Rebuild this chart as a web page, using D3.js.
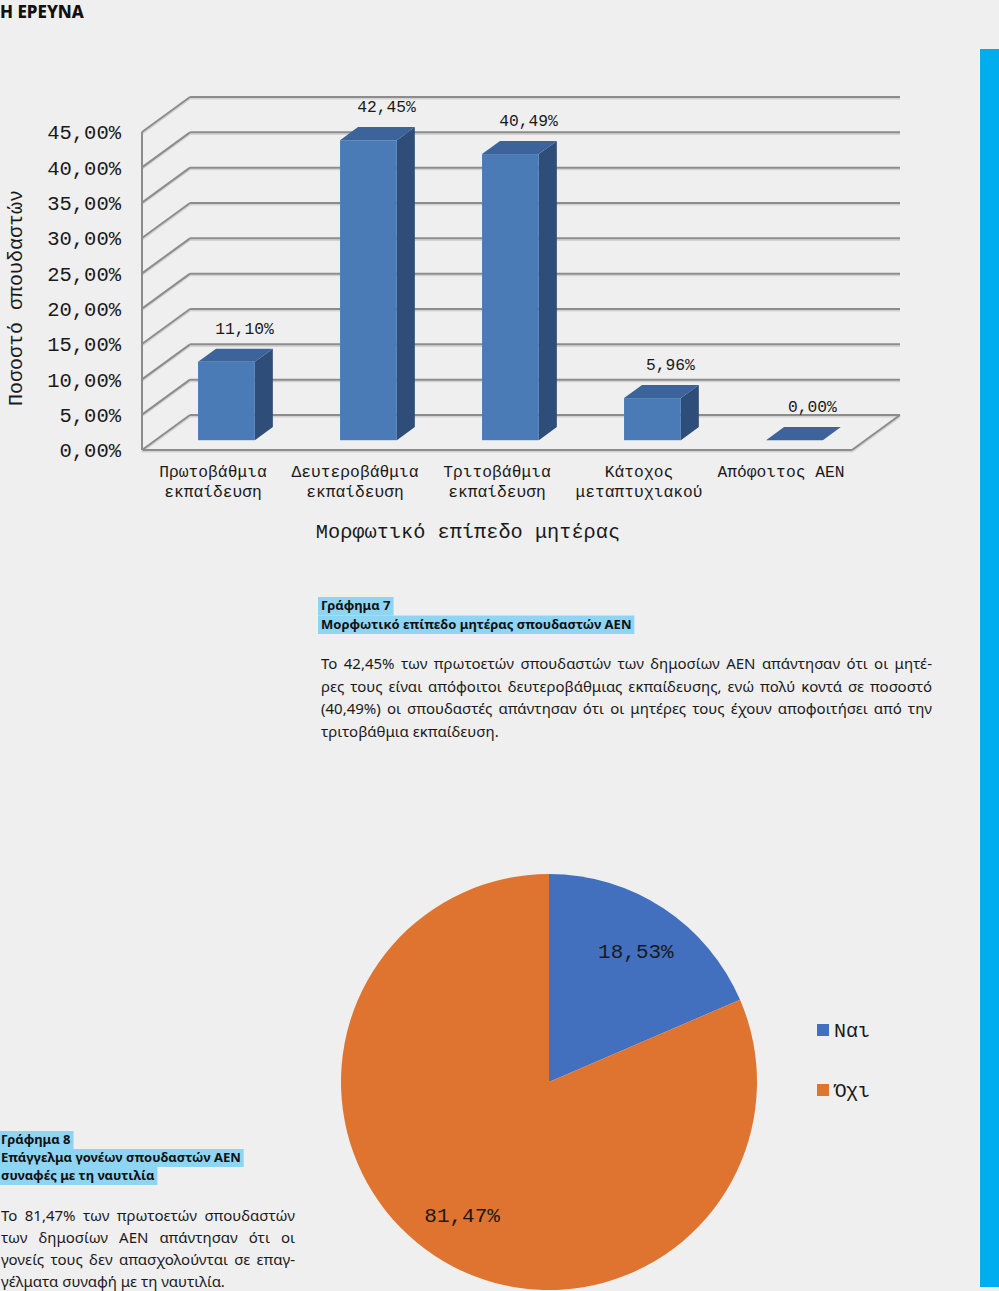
<!DOCTYPE html>
<html><head><meta charset="utf-8">
<script src="https://cdn.jsdelivr.net/npm/d3@7"></script>
<style>
html,body{margin:0;padding:0;background:#efefef;}
#wrap{position:relative;width:999px;height:1291px;overflow:hidden;}
</style></head>
<body><div id="wrap"></div>
<script>
// ---------- data ----------
const categories = [["Πρωτοβάθμια","εκπαίδευση"],["Δευτεροβάθμια","εκπαίδευση"],["Τριτοβάθμια","εκπαίδευση"],["Κάτοχος","μεταπτυχιακού"],["Απόφοιτος ΑΕΝ"]];
const values = [11.10, 42.45, 40.49, 5.96, 0.00];
const yTicks = [0,5,10,15,20,25,30,35,40,45];
const yTitle = "Ποσοστό σπουδαστών";
const xTitle = "Μορφωτικό επίπεδο μητέρας";
const pieCategories = ["Ναι","Όχι"];
const pieValues = [18.53, 81.47];
const pageTitle = "Η ΕΡΕΥΝΑ";
const caption7Head = ["Γράφημα 7","Μορφωτικό επίπεδο μητέρας σπουδαστών ΑΕΝ"];
const caption7Body = ["Το 42,45% των πρωτοετών σπουδαστών των δημοσίων ΑΕΝ απάντησαν ότι οι μητέ-",
 "ρες τους είναι απόφοιτοι δευτεροβάθμιας εκπαίδευσης, ενώ πολύ κοντά σε ποσοστό",
 "(40,49%) οι σπουδαστές απάντησαν ότι οι μητέρες τους έχουν αποφοιτήσει από την",
 "τριτοβάθμια εκπαίδευση."];
const caption8Head = ["Γράφημα 8","Επάγγελμα γονέων σπουδαστών ΑΕΝ","συναφές με τη ναυτιλία"];
const caption8Body = ["Το 81,47% των πρωτοετών σπουδαστών","των δημοσίων ΑΕΝ απάντησαν ότι οι",
 "γονείς τους δεν απασχολούνται σε επαγ-","γέλματα συναφή με τη ναυτιλία."];

// ---------- setup ----------
const W=999,H=1291;
const loc = d3.formatLocale({decimal:",",thousands:".",grouping:[3],currency:["","€"]});
const pct = v => loc.format(".2f")(v)+"%";
const MONO = "'Liberation Mono', 'DejaVu Sans Mono', monospace";
const SANS = "'Noto Sans', sans-serif";
const INK = "#1a1a1a";

const svg = d3.select("#wrap").append("svg").attr("width",W).attr("height",H);
svg.append("rect").attr("width",W).attr("height",H).attr("fill","#efefef");

svg.append("text").attr("x",0).attr("y",17.5).text(pageTitle)
  .attr("font-family",SANS).attr("font-weight",800).attr("font-size",17).attr("fill","#111");

svg.append("rect").attr("x",980).attr("y",49).attr("width",19).attr("height",1238).attr("fill","#00adef");
svg.append("line").attr("x1",979.5).attr("x2",979.5).attr("y1",49).attr("y2",1287).attr("stroke","#fff").attr("stroke-width",1).attr("opacity",0.7);

// ---------- 3D bar chart ----------
const x = d3.scaleBand().domain(d3.range(categories.length)).range([142,852]);
const y = d3.scaleLinear().domain([0,45]).range([450,132]);
const DX=48, DY=-35;
const g = svg.append("g");
function gridLine(x1,y1,x2,y2){
  g.append("line").attr("x1",x1).attr("y1",y1+1.8).attr("x2",x2).attr("y2",y2+1.8)
    .attr("stroke","#d2d2d2").attr("stroke-width",1.6);
  g.append("line").attr("x1",x1).attr("y1",y1).attr("x2",x2).attr("y2",y2)
    .attr("stroke","#8c8c8c").attr("stroke-width",2);
}
const x0 = x.range()[0], x1 = x.range()[1];
yTicks.forEach(t=>{
  gridLine(x0, y(t), x0+DX, y(t)+DY);
  gridLine(x0+DX, y(t)+DY, x1+DX, y(t)+DY);
});
gridLine(x0, y(0), x1, y(0));
gridLine(x1, y(0), x1+DX, y(0)+DY);
gridLine(x0, y(45), x0, y(0));

// y tick labels
g.selectAll(".yt").data(yTicks).join("text")
  .attr("x",121).attr("y",d=>y(d)).attr("dy","0.36em").attr("text-anchor","end")
  .attr("font-family",MONO).attr("font-size",20.5).attr("fill",INK).text(d=>pct(d));

// bars
const bw = x.bandwidth()*0.4, d0=0.28, dd=0.375;
const ddx = dd*DX, ddy = dd*DY;
const cFront="#4a7bb7", cSide="#2e4d78", cTop="#3c639a";
values.forEach((v,i)=>{
  const fx = x(i)+x.bandwidth()/2-bw/2+d0*DX;
  const yb = y(0)+d0*DY, yt = y(v)+d0*DY;
  const bar = g.append("g");
  bar.append("polygon").attr("points",[[fx+bw,yb],[fx+bw+ddx,yb+ddy],[fx+bw+ddx,yt+ddy],[fx+bw,yt]].join(" "))
    .attr("fill",cSide);
  bar.append("polygon").attr("points",[[fx,yt],[fx+ddx,yt+ddy],[fx+bw+ddx,yt+ddy],[fx+bw,yt]].join(" "))
    .attr("fill",cTop);
  bar.append("rect").attr("x",fx).attr("y",yt).attr("width",bw).attr("height",yb-yt).attr("fill",cFront);
  g.append("text").attr("x",fx+bw/2+ddx).attr("y",yt+ddy-21).attr("dy","0.36em")
    .attr("text-anchor","middle").attr("font-family",MONO).attr("font-size",16.3).attr("fill",INK)
    .text(pct(v));
});

// category labels
categories.forEach((c,i)=>{
  c.forEach((line,j)=>{
    g.append("text").attr("x",x(i)+x.bandwidth()/2).attr("y",471+j*20).attr("dy","0.36em")
      .attr("text-anchor","middle").attr("font-family",MONO).attr("font-size",16.3).attr("fill",INK).text(line);
  });
});
g.append("text").attr("x",468).attr("y",531).attr("dy","0.36em").attr("text-anchor","middle")
  .attr("font-family",MONO).attr("font-size",20.3).attr("fill",INK).text(xTitle);
g.append("text").attr("transform","translate(15,298) rotate(-90)").attr("dy","0.36em").attr("text-anchor","middle")
  .attr("font-family",MONO).attr("font-size",20).attr("fill",INK).text(yTitle);

// ---------- pie ----------
const pieColors = d3.scaleOrdinal().domain(pieCategories).range(["#4270bf","#df7430"]);
const R=208, cx=549, cy=1082;
const pg = svg.append("g").attr("transform",`translate(${cx},${cy})`);
const arcs = d3.pie().sort(null).value(d=>d)(pieValues);
const arc = d3.arc().innerRadius(0).outerRadius(R);
const labArc = d3.arc().innerRadius(R*0.76).outerRadius(R*0.76);
pg.selectAll("path").data(arcs).join("path").attr("d",arc)
  .attr("fill",(d,i)=>pieColors(pieCategories[i]));
pg.selectAll(".pl").data(arcs).join("text")
  .attr("transform",d=>`translate(${labArc.centroid(d)})`).attr("dy","0.36em").attr("text-anchor","middle")
  .attr("font-family",MONO).attr("font-size",21).attr("fill",INK).text(d=>pct(d.data));

// legend
pieCategories.forEach((c,i)=>{
  const ly = 1030+i*60;
  svg.append("rect").attr("x",817).attr("y",ly-6).attr("width",12).attr("height",12).attr("fill",pieColors(c));
  svg.append("text").attr("x",834).attr("y",ly).attr("dy","0.36em").attr("font-family",MONO)
    .attr("font-size",20).attr("fill",INK).text(c);
});

// ---------- captions ----------
function headLines(xx, y0, lines, step){
  lines.forEach((t,i)=>{
    const by = y0+i*step;
    const r = svg.append("rect").attr("fill","#8ed5f3");
    const tx = svg.append("text").attr("x",xx).attr("y",by).attr("font-family",SANS).attr("font-weight",700)
      .attr("font-size",13).attr("fill","#111").text(t);
    const w = tx.node().getComputedTextLength();
    r.attr("x",xx-3).attr("y",by-13).attr("width",w+6).attr("height",step);
  });
}
function bodyLines(xx, y0, lines, width, step){
  lines.forEach((t,i)=>{
    const tx = svg.append("text").attr("x",xx).attr("y",y0+i*step).attr("font-family",SANS)
      .attr("font-size",15).attr("fill",INK).text(t);
    if(i<lines.length-1){
      const nat = tx.node().getComputedTextLength();
      const spaces = (t.match(/ /g)||[]).length;
      if(spaces>0) tx.attr("word-spacing",(width-nat)/spaces);
    }
  });
}
headLines(321, 610, caption7Head, 18.5);
bodyLines(321, 669, caption7Body, 611, 22.5);
headLines(1, 1144, caption8Head, 18);
bodyLines(1, 1221, caption8Body, 294, 22);
</script></body></html>
